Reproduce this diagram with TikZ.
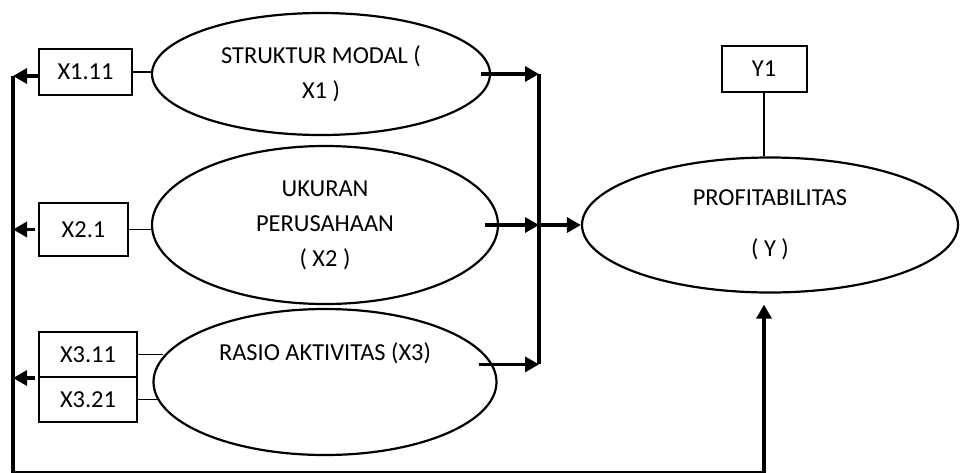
\documentclass[tikz,border=0pt]{standalone}
\usepackage{fontspec}
\setmainfont{Carlito}
\usetikzlibrary{shapes.geometric,arrows.meta}
\begin{document}
\begin{tikzpicture}[x=0.5pt,y=-0.5pt,
  latent/.style={draw,ellipse,line width=1.1pt,inner sep=0pt,align=center,font=\fontsize{12.2}{17.5}\selectfont},
  ind/.style={draw,rectangle,line width=1pt,inner sep=0pt,font=\fontsize{12.2}{14}\selectfont},
  link/.style={line width=0.9pt},
  arr/.style={line width=1.7pt,-{Triangle[length=7pt,width=7.5pt]}}]
\useasboundingbox (0,0) rectangle (963,472);
% konstruk
\node[latent,minimum width=169pt,minimum height=61pt] (SM) at (321,74) {STRUKTUR MODAL (\\ X1 )};
\node[latent,minimum width=173pt,minimum height=79pt] (UP) at (325,225) {UKURAN\\ PERUSAHAAN\\ ( X2 )};
\node[latent,minimum width=171.5pt,minimum height=73pt] (RA) at (325,382) {};
\node[font=\fontsize{12.2}{14}\selectfont] (RAtxt) at (325,353) {RASIO AKTIVITAS (X3)};
\node[latent,minimum width=188pt,minimum height=67.5pt] (PR) at (770,225) {PROFITABILITAS\\[8pt] ( Y )};
% indikator
\node[ind,minimum width=46.5pt,minimum height=23pt] (X111) at (85.5,72) {X1.11};
\node[ind,minimum width=44.5pt,minimum height=26.5pt] (X21) at (83.5,229.5) {X2.1};
\node[ind,minimum width=49pt,minimum height=22.5pt] (X311) at (88,354.5) {X3.11};
\node[ind,minimum width=49pt,minimum height=22.5pt] (X321) at (88,399.5) {X3.21};
\node[ind,minimum width=42.5pt,minimum height=23pt] (Y1) at (764,69) {Y1};
\coordinate (J) at (539,225);
\coordinate (T) at (13,76);
\coordinate (L) at (13,473);
\coordinate (B) at (764,473);
\draw[link] (X111.east) -- (X111.east -| SM.west);
\draw[link] (X21.east) -- (X21.east -| UP.west);
\draw[link] (X311.east) -- (X311.east -| RA.171);
\draw[link] (X321.east) -- (X321.east -| RA.186);
\draw[link] (Y1.south) -- (Y1.south |- PR.north);
% ke profitabilitas
\draw[arr] ([xshift=-5pt]SM.east) -- (SM.east -| J);
\draw[arr] ([xshift=-7pt]UP.east) -- (UP.east -| J);
\draw[arr] ([xshift=-7pt]RA.6) -- (RA.6 -| J);
\draw[line width=1.7pt] (SM.east -| J) -- (RA.6 -| J);
\draw[arr] (J) -- (PR.west);
% umpan balik
\draw[arr] (X111.west |- T) -- (T);
\draw[arr] ([xshift=-1.5pt]X21.west) -- (X21.west -| L);
\draw[arr] ([xshift=-1.5pt]X311.south west) -- (X311.south west -| L);
\draw[arr] (T) -- (L) -- (B) -- ([yshift=-5.5pt]B |- PR.south);
\end{tikzpicture}
\end{document}
